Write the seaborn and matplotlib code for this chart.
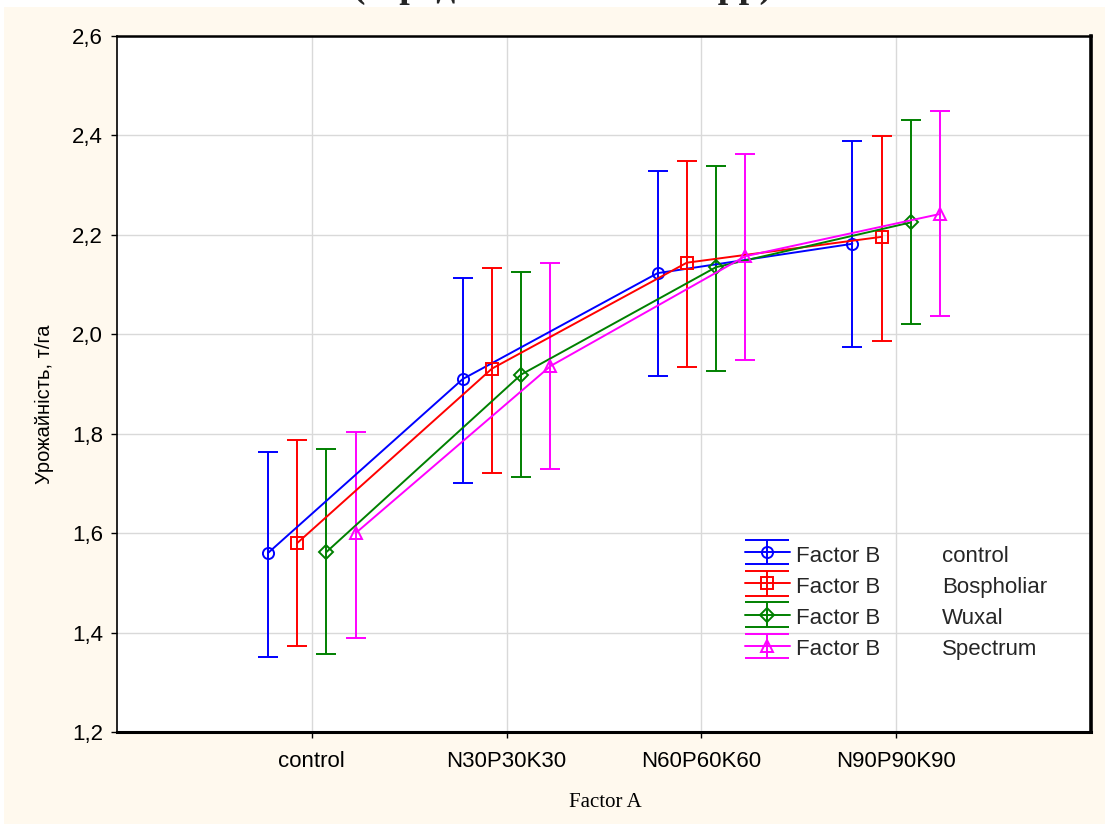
import numpy as np
import pandas as pd
import matplotlib
matplotlib.use("Agg")
import matplotlib.pyplot as plt
import seaborn as sns
from matplotlib.patches import Rectangle
from matplotlib.lines import Line2D
from matplotlib.collections import LineCollection
from matplotlib.container import ErrorbarContainer
from matplotlib.legend_handler import HandlerErrorbar

# ---------------- data ----------------
factor_a = ["control", "N30P30K30", "N60P60K60", "N90P90K90"]
factor_b = ["control", "Bospholiar", "Wuxal", "Spectrum"]

mean_control = [1.560, 1.910, 2.123, 2.182]
mean_bospholiar = [1.580, 1.931, 2.144, 2.196]
mean_wuxal = [1.562, 1.919, 2.135, 2.225]
mean_spectrum = [1.600, 1.936, 2.157, 2.242]

low_control = [1.350, 1.700, 1.916, 1.975]
low_bospholiar = [1.373, 1.720, 1.935, 1.987]
low_wuxal = [1.357, 1.713, 1.927, 2.020]
low_spectrum = [1.389, 1.729, 1.949, 2.036]

up_control = [1.763, 2.113, 2.329, 2.389]
up_bospholiar = [1.787, 2.133, 2.349, 2.399]
up_wuxal = [1.770, 2.126, 2.339, 2.432]
up_spectrum = [1.803, 2.143, 2.363, 2.449]

y_ticks = [1.2, 1.4, 1.6, 1.8, 2.0, 2.2, 2.4, 2.6]
y_tick_labels = ["1,2", "1,4", "1,6", "1,8", "2,0", "2,2", "2,4", "2,6"]

title = "(середнє за 2021-2023 рр)"
y_label = "Урожайність, т/га"
x_label = "Factor A"
legend_prefix = "Factor B"

means = [mean_control, mean_bospholiar, mean_wuxal, mean_spectrum]
lows = [low_control, low_bospholiar, low_wuxal, low_spectrum]
ups = [up_control, up_bospholiar, up_wuxal, up_spectrum]

# ---------------- style ----------------
colors = ["#0000ff", "#ff0000", "#008000", "#ff00ff"]
markers = ["o", "s", "D", "^"]
msizes = [8, 8, 7, 8.5]
offsets = [-0.225, -0.075, 0.075, 0.225]
cream = "#fff9ee"
lw = 1.4

sns.set_theme(style="white")
plt.rcParams["font.family"] = ["Liberation Sans", "DejaVu Sans"]

W, H = 1109, 824
fig = plt.figure(figsize=(W / 100, H / 100), dpi=100, facecolor="white")
fig.add_artist(Rectangle((4 / W, 0), 1101 / W, 817 / H, transform=fig.transFigure,
                         facecolor=cream, edgecolor="none", zorder=0.5))
fig.text(0.507, 1 + 3 / H, title, ha="center", va="baseline",
         family=["Liberation Serif", "DejaVu Serif"], fontweight="bold",
         fontsize=27, zorder=0.2)

ax = fig.add_axes([117 / W, 1 - 732 / H, (1091 - 117) / W, (732 - 36) / H], zorder=1)
ax.set_facecolor("white")

xpos = np.arange(1, len(factor_a) + 1)

for i, g in enumerate(factor_b):
    df = pd.DataFrame({"x": xpos + offsets[i], "y": means[i]})
    sns.lineplot(data=df, x="x", y="y", ax=ax, color=colors[i], marker=markers[i],
                 markersize=msizes[i], markerfacecolor="none",
                 markeredgecolor=colors[i], markeredgewidth=lw, linewidth=lw,
                 estimator=None, sort=False, legend=False, zorder=3)
    m = np.array(means[i]); lo = np.array(lows[i]); hi = np.array(ups[i])
    ax.errorbar(xpos + offsets[i], m, yerr=[m - lo, hi - m], fmt="none",
                ecolor=colors[i], elinewidth=lw, capsize=7, capthick=lw, zorder=2)

ax.set_xlim(0, len(factor_a) + 1)
ax.set_ylim(y_ticks[0], y_ticks[-1])
ax.set_xticks(xpos)
ax.set_xticklabels(factor_a, fontsize=16, color="black")
ax.set_yticks(y_ticks)
ax.set_yticklabels(y_tick_labels, fontsize=16, color="black")
ax.tick_params(axis="both", direction="out", length=4, width=1, color="black",
               bottom=True, left=True)
ax.tick_params(axis="y", pad=6)
ax.tick_params(axis="x", pad=10)
ax.grid(True, color="#d9d9d9", linewidth=1)
ax.set_axisbelow(True)

ax.set_xlabel(x_label, family=["Liberation Serif", "DejaVu Serif"], fontsize=15,
              color="black")
ax.xaxis.label.set_va("center")
ax.xaxis.set_label_coords(0.501, -0.102)
ax.set_ylabel(y_label, fontsize=14.5, color="black")
ax.yaxis.label.set_va("center")
ax.yaxis.set_label_coords(-0.074, 0.471)

for side, w in [("left", 1.2), ("top", 1.8), ("bottom", 2.2), ("right", 2.6)]:
    ax.spines[side].set_visible(True)
    ax.spines[side].set_color("black")
    ax.spines[side].set_linewidth(w)

# ---------------- legend ----------------
handles = []
for i in range(len(factor_b)):
    data_line = Line2D([], [], color=colors[i], marker=markers[i], markersize=msizes[i],
                       markerfacecolor="none", markeredgecolor=colors[i],
                       markeredgewidth=lw, linewidth=lw)
    cap = Line2D([], [], color=colors[i], marker="_", markersize=32,
                 markeredgewidth=lw, linestyle="none")
    bar = LineCollection([], colors=colors[i], linewidths=lw)
    handles.append(ErrorbarContainer((data_line, (cap, cap), (bar,)),
                                     has_xerr=False, has_yerr=True))

common = dict(loc="upper left", frameon=False, fontsize=16, borderpad=0,
              borderaxespad=0, handleheight=1.2, labelspacing=0.33, numpoints=1)
leg1 = ax.legend(handles, [legend_prefix] * len(factor_b),
                 bbox_to_anchor=(0.645, 0.272), handlelength=2.0,
                 handletextpad=0.3,
                 handler_map={ErrorbarContainer: HandlerErrorbar(xerr_size=0.55)},
                 **common)
ax.add_artist(leg1)
blank = [Line2D([], [], alpha=0) for _ in factor_b]
ax.legend(blank, factor_b, bbox_to_anchor=(0.847, 0.272), handlelength=0,
          handletextpad=0, **common)

fig.savefig("out.png", dpi=100, facecolor=fig.get_facecolor())
